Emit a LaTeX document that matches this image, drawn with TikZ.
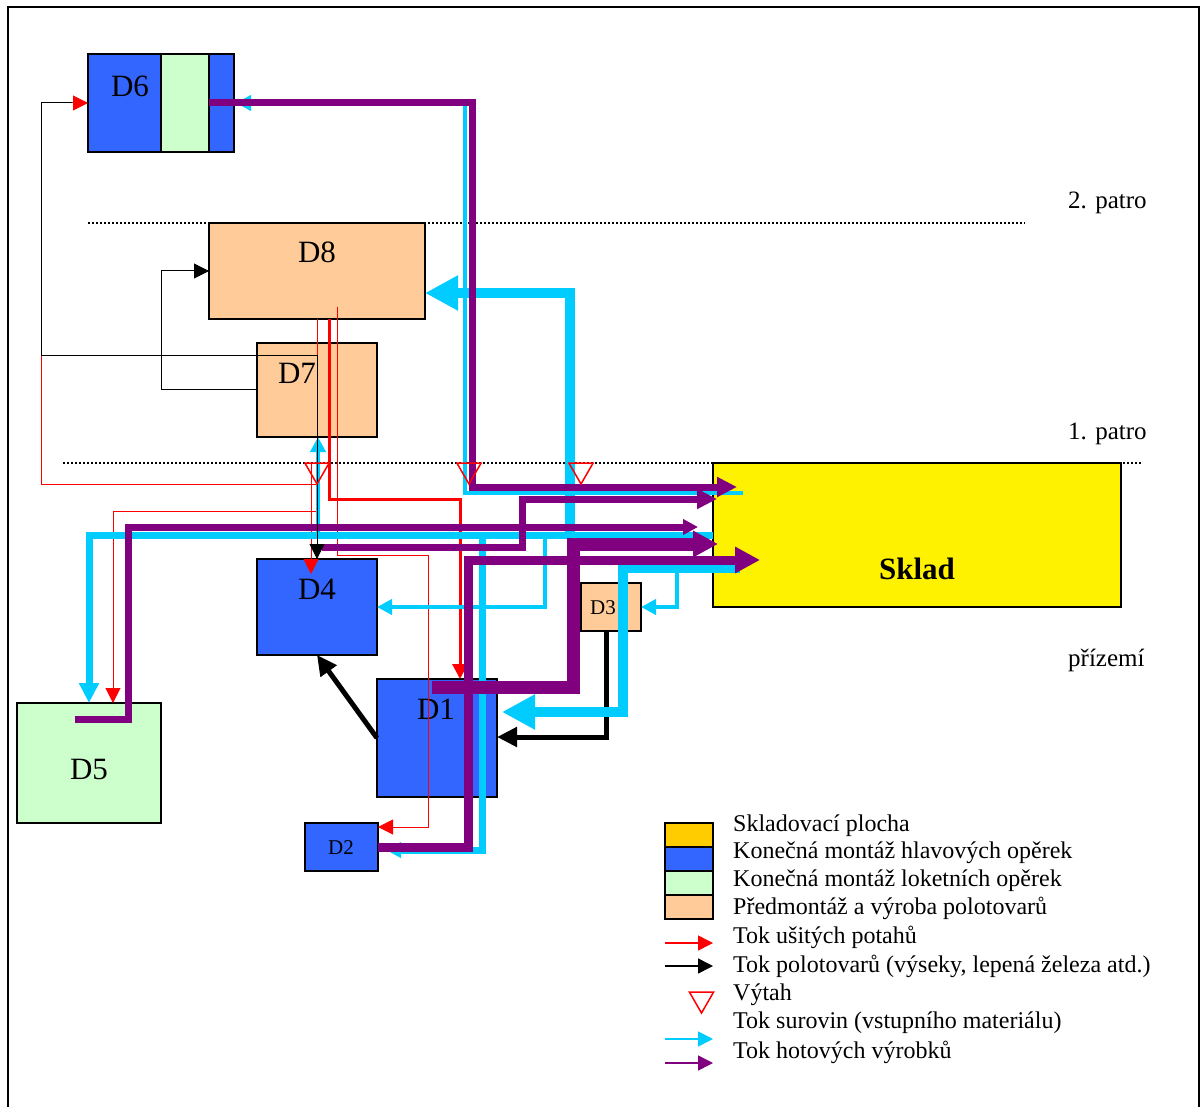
\documentclass[tikz,border=0pt]{standalone}
\usepackage{fontspec}
\setmainfont{Liberation Serif}
\usetikzlibrary{arrows.meta, positioning, shapes.geometric}

\definecolor{hallblue}{HTML}{3366FF}
\definecolor{hallgreen}{HTML}{CCFFCC}
\definecolor{hallpeach}{HTML}{FFCC99}
\definecolor{hallgold}{HTML}{FFCC00}
\definecolor{flowcyan}{HTML}{00CCFF}
\definecolor{flowpurple}{HTML}{800080}

\begin{document}
\begin{tikzpicture}[x=1pt, y=-1pt,
  hall/.style={draw, line width=2.5pt, inner sep=0pt, outer sep=0pt},
  dlbl/.style={anchor=base, inner sep=0pt, font=\fontsize{31}{36}\selectfont},
  slbl/.style={anchor=base, inner sep=0pt, font=\fontsize{21}{25}\selectfont},
  txt/.style={anchor=base west, inner sep=0pt, font=\fontsize{24}{28}\selectfont},
  floor/.style={black, line width=1.5pt, dash pattern=on 1.5pt off 2.5pt},
  lift/.style={draw=red, line width=1.5pt, regular polygon, regular polygon sides=3,
               shape border rotate=180, minimum size=28pt, inner sep=0pt, outer sep=0pt},
  rthin/.style={red, line width=1pt},
  rmid/.style={red, line width=3pt},
  bthin/.style={black, line width=1pt},
  bthick/.style={black, line width=5pt},
  cthin/.style={flowcyan, line width=4pt},
  cmid/.style={flowcyan, line width=7pt},
  cthick/.style={flowcyan, line width=10pt},
  pmid/.style={flowpurple, line width=7pt},
  pthick/.style={flowpurple, line width=13pt},
  tipS/.style={-{Triangle[length=15pt, width=15pt]}},
  tipM/.style={-{Triangle[length=20pt, width=19pt]}},
  tipL/.style={-{Triangle[length=25pt, width=25pt]}},
  tipXL/.style={-{Triangle[length=33pt, width=33pt]}}]
  \useasboundingbox (0,0) rectangle (1202,1107);
  \draw[line width=1.5pt] (8,1107) -- (8,7) -- (1199,7) -- (1199,1107);

  % floors
  \draw[floor] (88,223) -- (1025,223);
  \draw[floor] (63,463) -- (1143,463);
  \node[txt, font=\fontsize{25}{30}\selectfont] (floor2) at (1068,209) {2. patro};
  \node[txt, font=\fontsize{25}{30}\selectfont] (floor1) at (1068,439) {1. patro};
  \node[txt, font=\fontsize{25}{30}\selectfont] (floor0) at (1068,666) {přízemí};

  % halls
  \node[hall, fill=yellow, minimum width=408pt, minimum height=144pt] (sklad) at (917,535) {};
  \node[hall, fill=hallblue, minimum width=146pt, minimum height=98pt] (d6) at (161,103) {};
  \node[hall, line width=1.5pt, fill=hallgreen, minimum width=48pt, minimum height=98pt] (d6g) at (185,103) {};
  \node[hall, fill=hallpeach, minimum width=216pt, minimum height=96pt] (d8) at (317,271) {};
  \node[hall, fill=hallpeach, minimum width=120pt, minimum height=94pt] (d7) at (317,390) {};
  \node[hall, fill=hallblue, minimum width=120pt, minimum height=96pt] (d4) at (317,607) {};
  \node[hall, fill=hallgreen, minimum width=144pt, minimum height=120pt] (d5) at (89,763) {};
  \node[hall, fill=hallblue, minimum width=120pt, minimum height=118pt] (d1) at (437,738) {};
  \node[hall, fill=hallblue, minimum width=73pt, minimum height=48pt] (d2) at (341.5,847) {};
  \node[hall, fill=hallpeach, minimum width=60pt, minimum height=48pt] (d3) at (611,607) {};

  \node[dlbl] (d6l) at (130,97) {D6};
  \node[dlbl] (d8l) at (317,263) {D8};
  \node[dlbl] (d7l) at (297,383) {D7};
  \node[dlbl] (d4l) at (317,599) {D4};
  \node[dlbl] (d5l) at (89,779) {D5};
  \node[dlbl] (d1l) at (436,719) {D1};
  \node[slbl] (d2l) at (341,854) {D2};
  \node[slbl] (d3l) at (603,614) {D3};
  \node[dlbl, font=\bfseries\fontsize{31}{36}\selectfont] (skladl) at (917,579) {Sklad};

  % covers
  \draw[rthin, tipS] (d8.south) -- (317,484) -- (41,484) -- (41,103) -- (d6.west);
  \draw[rthin, tipS] (d8.south) -- (317,511) -- (113,511) -- (d5.north -| 113,0);
  \draw[rthin, tipS] (311,463) -- (311,574);
  \draw[rmid, tipS] (329,319) -- (329,499) -- (460,499) -- (d1.north -| 460,0);
  \draw[rthin, tipS] (337,307) -- (337,555) -- (428,555) -- (428,827) -- (d2.east |- 0,827);

  % semi-finished
  \draw[bthick, tipM] (d3.south -| 606,0) -- (606,737) -- (d1.east |- 0,737);
  \draw[bthick, tipM] (d1.west) -- (d4.south);

  % raw material
  \draw[cmid, tipM] (sklad.west |- 0,535) -- (89,535) -- (d5.north -| 89,0);
  \draw[cthin, tipS] (318,535) -- (d7.south -| 318,0);
  \draw[cmid, tipS] (482,535) -- (482,850) -- (386,850);
  \draw[cthin, tipS] (545,535) -- (545,607) -- (d4.east);
  \draw[cthick, tipXL] (570,535) -- (570,293) -- (d8.east |- 0,293);
  \draw[cthin, tipS] (743,493) -- (465,493) -- (465,103) -- (236,103);
  \draw[cthick, tipXL] (740,568) -- (623,568) -- (623,712) -- (502,712);
  \draw[cthin, tipS] (677,568) -- (677,607) -- (d3.east);

  % finished products
  \draw[pmid, tipM] (d6g.east) -- (472,103) -- (472,487) -- (737,487);
  \draw[pmid, tipS] (75,719) -- (128,719) -- (128,527) -- (698,527);
  \draw[pmid, tipM] (322,547) -- (522,547) -- (522,499) -- (717,499);
  \draw[pthick, tipL] (432,687) -- (573,687) -- (573,544) -- (718,544);
  \draw[pmid, line width=9pt, tipL] (d2.east) -- (468,847) -- (468,560) -- (760,560);

  \draw[bthin, tipS] (d7.west |- 0,389) -- (161,389) -- (161,271) -- (d8.west);
  \draw[bthin, tipS] (72,103) -- (41,103) -- (41,355) -- (317,355) -- (d4.north);

  % lifts
  \node[lift] (lift1) at (317,470) {};
  \node[lift] (lift2) at (469,470) {};
  \node[lift] (lift3) at (581,470) {};

  % legend
  \node[hall, line width=1.5pt, fill=hallgold, minimum width=48pt, minimum height=24pt] (sw1) at (689,835) {};
  \node[hall, line width=1.5pt, fill=hallblue, minimum width=48pt, minimum height=24pt, below=0pt of sw1] (sw2) {};
  \node[hall, line width=1.5pt, fill=hallgreen, minimum width=48pt, minimum height=24pt, below=0pt of sw2] (sw3) {};
  \node[hall, line width=1.5pt, fill=hallpeach, minimum width=48pt, minimum height=24pt, below=0pt of sw3] (sw4) {};
  \node[txt] (t1) at (733,831) {Skladovací plocha};
  \node[txt] (t2) at (733,858) {Konečná montáž hlavových opěrek};
  \node[txt] (t3) at (733,886) {Konečná montáž loketních opěrek};
  \node[txt] (t4) at (733,914) {Předmontáž a výroba polotovarů};
  \node[txt] (t5) at (733,943) {Tok ušitých potahů};
  \node[txt] (t6) at (733,972) {Tok polotovarů (výseky, lepená železa atd.)};
  \node[txt] (t7) at (733,1000) {Výtah};
  \node[txt] (t8) at (733,1028) {Tok surovin (vstupního materiálu)};
  \node[txt] (t9) at (733,1058) {Tok hotových výrobků};
  \draw[red, line width=1.5pt, tipS] (665,943) -- (713,943);
  \draw[black, line width=1.5pt, tipS] (665,966) -- (713,966);
  \node[lift] (lift0) at (701.5,999) {};
  \draw[flowcyan, line width=1.5pt, tipS] (665,1039) -- (713,1039);
  \draw[flowpurple, line width=1.5pt, tipS] (665,1063) -- (713,1063);
\end{tikzpicture}
\end{document}
